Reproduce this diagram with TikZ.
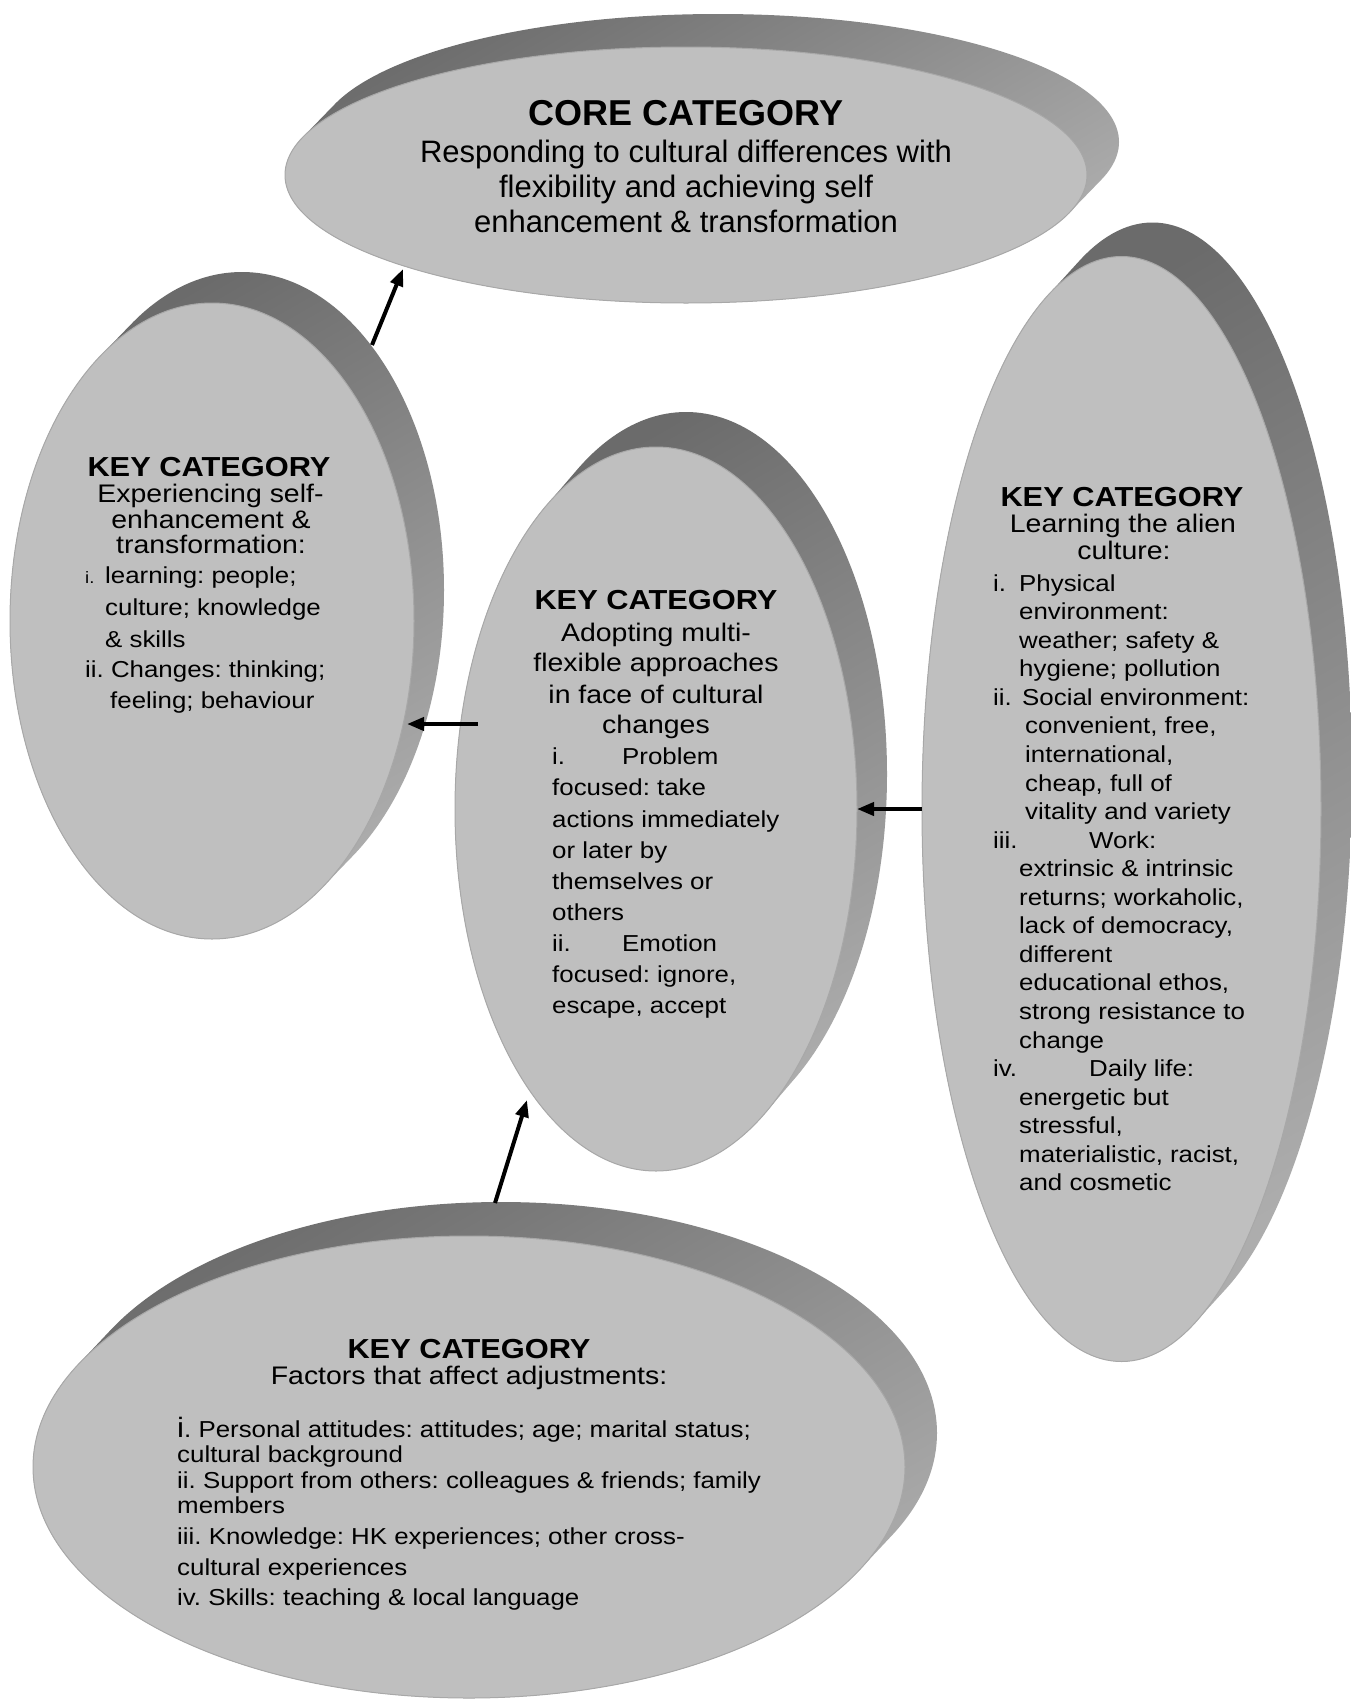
\documentclass[tikz,border=0pt]{standalone}
\usepackage{fontspec}
\setmainfont{Liberation Sans}
\newfontfamily\kf[FakeStretch=1.12]{Liberation Sans}
\usetikzlibrary{shapes.geometric,arrows.meta}
\frenchspacing
\definecolor{faceC}{gray}{0.75}
\definecolor{edgeC}{gray}{0.66}
\definecolor{sdA}{gray}{0.42}
\definecolor{sdD}{gray}{0.68}
% extruded side of a disc: cx, cy, rx, ry, dx, dy
\newcommand\discside[6]{%
  \begin{scope}
    \clip foreach \k in {0,...,30} {({#1+\k/30*(#5)},{#2+\k/30*(#6)}) ellipse [x radius=#3pt, y radius=#4pt]};
    \shade[top color=sdA, bottom color=sdD, shading angle=30]
      ({#1-#3-2},{#2-#4+(#6)-2}) rectangle ({#1+#3+(#5)+2},{#2+#4+2});
  \end{scope}}
\begin{document}
\frenchspacing
\begin{tikzpicture}[x=1pt,y=-1pt,
  face/.style={ellipse, fill=faceC, draw=edgeC, line width=1pt, inner sep=0pt, outer sep=0pt},
  hb/.style={font=\frenchspacing\kf\fontsize{27.5}{30}\selectfont\bfseries, inner sep=0pt, anchor=base},
  hs/.style={font=\frenchspacing\kf\fontsize{25.4}{28}\selectfont, inner sep=0pt, anchor=base},
  li/.style={font=\frenchspacing\kf\fontsize{23.1}{26}\selectfont, inner sep=0pt, anchor=base west},
  cb/.style={font=\frenchspacing\fontsize{36}{40}\selectfont\bfseries, inner sep=0pt, anchor=base},
  cs/.style={font=\frenchspacing\fontsize{31}{34}\selectfont, inner sep=0pt, anchor=base},
  arr/.style={line width=4pt, -{Triangle[length=17pt,width=13pt]}}]
\fill[white] (0,0) rectangle (1351,1700);
\useasboundingbox (0,0) rectangle (1351,1700);

% right disc
\discside{1121.5}{809}{199.5}{552.5}{31}{-34}
\node[face, minimum width=399pt, minimum height=1105pt] (right) at (1121.5,809) {};
% core disc
\discside{686}{175}{401}{128}{32}{-33}
\node[face, minimum width=802pt, minimum height=256pt] (core) at (686,175) {};
% left disc
\discside{212}{621}{202}{318}{30}{-31}
\node[face, minimum width=404pt, minimum height=636pt] (left) at (212,621) {};
% middle disc
\discside{656}{809}{201}{362}{30}{-35}
\node[face, minimum width=402pt, minimum height=724pt] (mid) at (656,809) {};
% bottom disc
\discside{469}{1467}{436}{231}{32}{-34}
\node[face, minimum width=872pt, minimum height=462pt] (bot) at (469,1467) {};

% core text
\node[cb] (c1) at (686,125) {CORE CATEGORY};
\node[cs] (c2) at (686,162) {Responding to cultural differences with};
\node[cs] (c3) at (686,197) {flexibility and achieving self};
\node[cs] (c4) at (686,232) {enhancement \& transformation};

% left text
\node[hb] (l1) at (209,476) {KEY CATEGORY};
\node[hs] (l2) at (210.5,502) {Experiencing self-};
\node[hs] (l3) at (211,528) {enhancement \&};
\node[hs] (l4) at (211,553) {transformation:};
\node[li, font=\kf\fontsize{16.5}{18}\selectfont] (l5) at (85,583) {i.};
\node[li] (l6) at (105,583) {learning: people;};
\node[li] (l7) at (105,615) {culture; knowledge};
\node[li] (l8) at (105,647) {\& skills};
\node[li] (l9) at (85,677) {ii. Changes: thinking;};
\node[li] (l10) at (110,708) {feeling; behaviour};

% middle text
\node[hb] (m1) at (656,609) {KEY CATEGORY};
\node[hs] (m2) at (656,641) {Adopting multi-};
\node[hs] (m3) at (656,671) {flexible approaches};
\node[hs] (m4) at (656,703) {in face of cultural};
\node[hs] (m5) at (656,733) {changes};
\node[li] (m6) at (552,764) {i.};
\node[li] (m7) at (622,764) {Problem};
\node[li] (m8) at (552,795) {focused: take};
\node[li] (m9) at (552,827) {actions immediately};
\node[li] (m10) at (552,858) {or later by};
\node[li] (m11) at (552,889) {themselves or};
\node[li] (m12) at (552,920) {others};
\node[li] (m13) at (552,951) {ii.};
\node[li] (m14) at (622,951) {Emotion};
\node[li] (m15) at (552,982) {focused: ignore,};
\node[li] (m16) at (552,1013) {escape, accept};

% right text
\node[hb] (r1) at (1122,506) {KEY CATEGORY};
\node[hs] (r2) at (1123,532) {Learning the alien};
\node[hs] (r3) at (1124,559) {culture:};
\node[li] (r4) at (993,591) {i.};
\node[li] (r5) at (1019,591) {Physical};
\node[li] (r6) at (1019,619.5) {environment:};
\node[li] (r7) at (1019,648) {weather; safety \&};
\node[li] (r8) at (1019,676.5) {hygiene; pollution};
\node[li] (r9) at (993,705) {ii.};
\node[li] (r10) at (1022,705) {Social environment:};
\node[li] (r11) at (1025,733.5) {convenient, free,};
\node[li] (r12) at (1025,762) {international,};
\node[li] (r13) at (1025,791) {cheap, full of};
\node[li] (r14) at (1025,819.5) {vitality and variety};
\node[li] (r15) at (993,848) {iii.};
\node[li] (r16) at (1089,848) {Work:};
\node[li] (r17) at (1019,876.5) {extrinsic \& intrinsic};
\node[li] (r18) at (1019,905) {returns; workaholic,};
\node[li] (r19) at (1019,933.5) {lack of democracy,};
\node[li] (r20) at (1019,962) {different};
\node[li] (r21) at (1019,990.5) {educational ethos,};
\node[li] (r22) at (1019,1019) {strong resistance to};
\node[li] (r23) at (1019,1048) {change};
\node[li] (r24) at (993,1076.5) {iv.};
\node[li] (r25) at (1089,1076.5) {Daily life:};
\node[li] (r26) at (1019,1105) {energetic but};
\node[li] (r27) at (1019,1133.5) {stressful,};
\node[li] (r28) at (1019,1162) {materialistic, racist,};
\node[li] (r29) at (1019,1190.5) {and cosmetic};

% bottom text
\node[hb] (b1) at (469,1358) {KEY CATEGORY};
\node[hs] (b2) at (469,1384) {Factors that affect adjustments:};
\node[li] (b3) at (177,1437) {{\fontsize{28}{30}\selectfont i}. Personal attitudes: attitudes; age; marital status;};
\node[li] (b4) at (177,1462) {cultural background};
\node[li] (b5) at (177,1488) {ii. Support from others: colleagues \& friends; family};
\node[li] (b6) at (177,1513) {members};
\node[li] (b7) at (177,1544) {iii. Knowledge: HK experiences; other cross-};
\node[li] (b8) at (177,1575) {cultural experiences};
\node[li] (b9) at (177,1605) {iv. Skills: teaching \& local language};

% connectors
\coordinate (a1s) at (372,345);
\coordinate (a1e) at (403,269);
\coordinate (a2s) at (478,724);
\coordinate (a2e) at (407,724);
\coordinate (a4s) at (495,1203);
\coordinate (a4e) at (527,1100);
\draw[arr] (a1s) -- (a1e);
\draw[arr] (a2s) -- (a2e);
\draw[arr] (right.west) -- (mid.east);
\draw[arr] (a4s) -- (a4e);
\end{tikzpicture}
\end{document}
